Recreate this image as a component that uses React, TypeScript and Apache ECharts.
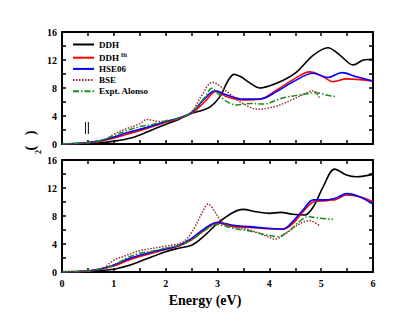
import React, { useEffect, useRef } from "react";
import * as echarts from "echarts";

type P = [number, number][];

const xTicks = [0, 1, 2, 3, 4, 5, 6];
const yTicks = [0, 4, 8, 12, 16];
const seriesNames = ["DDH", "DDHfit", "HSE06", "BSE", "Expt. Alonso"];

// Top panel
const topDDH: P = [[0,0],[0.5,0.05],[0.8,0.2],[1.0,0.4],[1.2,0.65],[1.4,1.0],[1.64,1.7],[1.8,2.2],[2.02,2.85],[2.25,3.5],[2.47,4.3],[2.66,4.7],[2.86,5.3],[3.05,6.8],[3.2,9.0],[3.32,9.95],[3.45,9.6],[3.63,8.7],[3.82,8.0],[4.0,8.3],[4.27,9.1],[4.53,10.3],[4.85,12.7],[5.13,13.76],[5.36,12.7],[5.62,11.3],[5.82,12.0],[6,12.1]];
const topDDHfit: P = [[0,0],[0.5,0.15],[0.75,0.4],[1.0,0.85],[1.25,1.4],[1.5,1.9],[1.75,2.5],[2.0,3.1],[2.25,3.6],[2.5,4.4],[2.75,6.0],[2.97,7.5],[3.18,6.76],[3.5,6.3],[3.82,6.4],[4.14,7.7],[4.46,9.2],[4.78,10.3],[5.04,9.6],[5.23,8.9],[5.49,9.3],[5.75,9.2],[6,9.0]];
const topHSE: P = [[0,0],[0.25,0.05],[0.5,0.2],[0.75,0.5],[1.0,1.0],[1.25,1.6],[1.5,2.1],[1.75,2.6],[2.0,3.2],[2.25,3.7],[2.5,4.5],[2.73,6.3],[2.95,7.6],[3.18,7.0],[3.5,6.43],[3.82,6.43],[4.14,7.48],[4.46,8.9],[4.85,10.1],[5.13,9.5],[5.4,10.2],[5.68,9.6],[6,9.0]];
const topBSE: P = [[0,0],[0.5,0.15],[0.8,0.5],[1.0,1.4],[1.25,2.2],[1.5,2.9],[1.64,3.5],[1.89,3.2],[2.0,3.3],[2.25,3.6],[2.5,4.6],[2.7,7.0],[2.9,8.8],[3.18,7.5],[3.43,6.05],[3.79,4.95],[4.14,5.43],[4.46,6.4],[4.78,7.5],[4.85,7.6],[4.98,6.4]];
const topExpt: P = [[0,0],[0.5,0.2],[0.75,0.5],[1.0,1.2],[1.25,1.9],[1.5,2.5],[1.75,2.8],[2.0,3.3],[2.25,3.7],[2.5,4.5],[2.75,6.6],[2.89,7.95],[3.02,7.1],[3.18,6.05],[3.37,5.57],[3.63,5.8],[3.88,5.7],[4.27,6.6],[4.59,7.0],[4.91,7.33],[5.1,7.0],[5.29,6.76]];

// Bottom panel
const botDDH: P = [[0,0],[0.5,0.05],[1.0,0.4],[1.25,0.85],[1.5,1.5],[1.75,2.2],[2.0,2.9],[2.25,3.4],[2.51,3.86],[2.73,5.05],[3.0,6.95],[3.3,8.5],[3.49,8.95],[3.75,8.6],[4.0,8.38],[4.22,8.52],[4.45,8.24],[4.68,8.14],[4.85,9.33],[5.04,12.2],[5.26,14.7],[5.49,13.86],[5.68,13.6],[6,13.95]];
const botDDHfit: P = [[0,0],[0.5,0.12],[0.75,0.4],[1.0,0.85],[1.25,1.6],[1.5,2.2],[1.75,2.7],[2.0,3.2],[2.25,3.7],[2.5,4.6],[2.75,6.0],[3.0,7.0],[3.3,6.48],[3.62,6.38],[3.94,6.2],[4.26,6.1],[4.45,6.9],[4.65,8.6],[4.85,10.0],[5.1,10.2],[5.3,10.4],[5.49,11.0],[5.74,10.76],[6,10.05]];
const botHSE: P = [[0,0],[0.5,0.15],[0.75,0.45],[1.0,1.0],[1.25,1.8],[1.5,2.4],[1.75,2.9],[2.0,3.3],[2.25,3.8],[2.5,4.8],[2.75,6.2],[3.0,7.1],[3.3,6.67],[3.62,6.48],[3.94,6.24],[4.26,6.14],[4.45,7.19],[4.65,8.86],[4.85,10.3],[5.1,10.3],[5.3,10.6],[5.49,11.2],[5.74,10.76],[6,9.7]];
const botBSE: P = [[0,0.1],[0.5,0.2],[0.8,0.6],[1.0,1.7],[1.25,2.4],[1.5,3.05],[2.0,3.7],[2.34,4.3],[2.53,6.0],[2.7,8.4],[2.82,9.7],[2.95,8.6],[3.08,7.2],[3.3,6.5],[3.62,6.0],[3.94,5.14],[4.1,4.7],[4.32,5.52],[4.58,6.86],[4.78,7.33],[4.97,6.6]];
const botExpt: P = [[0,0],[0.5,0.15],[0.75,0.45],[1.0,1.0],[1.25,2.0],[1.5,2.67],[1.75,3.0],[2.0,3.4],[2.25,3.8],[2.5,4.6],[2.75,5.9],[2.98,6.8],[3.3,6.24],[3.62,5.86],[3.94,5.29],[4.16,5.05],[4.38,5.9],[4.58,7.19],[4.75,7.9],[4.97,7.67],[5.23,7.52]];

const FONT = "Liberation Serif";

const styles: Record<string, any> = {
  DDH: { color: "#000000", width: 1.6, type: "solid" },
  DDHfit: { color: "#ff0000", width: 1.6, type: "solid" },
  HSE06: { color: "#0000ff", width: 1.6, type: "solid" },
  BSE: { color: "#9b2a2a", width: 1.5, type: [1.5, 1.5] },
  "Expt. Alonso": { color: "#1a8a1a", width: 1.5, type: [6, 2, 1.5, 2] },
};

function mkX(grid: number, pos: string, label: boolean) {
  return {
    type: "value", gridIndex: grid, min: 0, max: 6, interval: 1, position: pos,
    axisLine: { show: true, onZero: false, lineStyle: { color: "#000", width: 2 } },
    axisTick: { show: true, inside: true, length: 4, lineStyle: { color: "#000", width: 1.5 } },
    minorTick: { show: true, splitNumber: 2, length: 4, lineStyle: { color: "#000", width: 1.5 } },
    axisLabel: {
      show: label, margin: 6, color: "#000", fontFamily: FONT, fontWeight: "bold", fontSize: 10,
      formatter: (v: number) => (xTicks.includes(v) ? String(v) : ""),
    },
    splitLine: { show: false },
  };
}
function mkY(grid: number, pos: string, label: boolean) {
  return {
    type: "value", gridIndex: grid, min: 0, max: 16, interval: 4, position: pos,
    axisLine: { show: true, onZero: false, lineStyle: { color: "#000", width: 2 } },
    axisTick: { show: true, inside: true, length: 4, lineStyle: { color: "#000", width: 1.5 } },
    minorTick: { show: true, splitNumber: 2, length: 4, lineStyle: { color: "#000", width: 1.5 } },
    axisLabel: {
      show: label, margin: 5, color: "#000", fontFamily: FONT, fontWeight: "bold", fontSize: 10,
      formatter: (v: number) => (yTicks.includes(v) ? String(v) : ""),
    },
    splitLine: { show: false },
  };
}

function mkSeries(name: string, data: P, grid: number) {
  return {
    type: "line", name, data, smooth: 0.35, showSymbol: false, symbol: "none",
    xAxisIndex: grid * 2, yAxisIndex: grid * 2,
    lineStyle: styles[name], itemStyle: { color: styles[name].color },
    z: 2,
  };
}

export default function App() {
  const ref = useRef<HTMLDivElement>(null);
  useEffect(() => {
    if (!ref.current) return;
    const chart = echarts.init(ref.current, undefined, { renderer: "svg" });
    const topData = [topDDH, topDDHfit, topHSE, topBSE, topExpt];
    const botData = [botDDH, botDDHfit, botHSE, botBSE, botExpt];
    chart.setOption({
      animation: false,
      backgroundColor: "#ffffff",
      grid: [
        { left: 62, top: 32, width: 311, height: 112 },
        { left: 62, top: 160, width: 311, height: 112 },
      ],
      xAxis: [mkX(0, "bottom", false), mkX(0, "top", false), mkX(1, "bottom", true), mkX(1, "top", false)],
      yAxis: [mkY(0, "left", true), mkY(0, "right", false), mkY(1, "left", true), mkY(1, "right", false)],
      legend: {
        show: true, orient: "vertical", left: 72, top: 40, padding: 0,
        itemWidth: 21, itemHeight: 10, itemGap: 2.2,
        itemStyle: { opacity: 0 },
        data: seriesNames,
        formatter: (n: string) => (n === "DDHfit" ? "DDH{sup|fit}" : n),
        textStyle: {
          fontFamily: FONT, fontWeight: "bold", fontSize: 9, color: "#000",
          rich: { sup: { fontFamily: FONT, fontWeight: "bold", fontSize: 6.5, color: "#000", padding: [0, 0, 6, 2] } },
        },
      },
      series: [
        ...seriesNames.map((n, i) => mkSeries(n, topData[i], 0)),
        ...seriesNames.map((n, i) => mkSeries(n, botData[i], 1)),
      ],
      graphic: [
        { type: "text", x: 87, y: 126.5, style: { text: "||", fontFamily: FONT, fontWeight: "bold", fontSize: 12, fill: "#000000", textShadowColor: "rgba(0,0,0,0.6)", textShadowBlur: 0.6, textShadowOffsetX: 0, textShadowOffsetY: 0, align: "center", verticalAlign: "middle" } },
        {
          type: "text", x: 30, y: 140.5, rotation: Math.PI / 2,
          style: { text: "(   )", fontFamily: FONT, fontWeight: "bold", fontSize: 14, fill: "#000", align: "center", verticalAlign: "middle" },
        },
        {
          type: "text", x: 38, y: 152, rotation: Math.PI / 2,
          style: { text: "2", fontFamily: FONT, fontWeight: "bold", fontSize: 8, fill: "#000", align: "center", verticalAlign: "middle" },
        },
        {
          type: "text", x: 205, y: 300,
          style: { text: "Energy (eV)", fontFamily: FONT, fontWeight: "bold", fontSize: 14, fill: "#000", align: "center", verticalAlign: "middle" },
        },
      ],
    });
    return () => chart.dispose();
  }, []);
  return <div ref={ref} style={{ position: "fixed", left: 0, top: 0, width: 415, height: 321 }} />;
}
